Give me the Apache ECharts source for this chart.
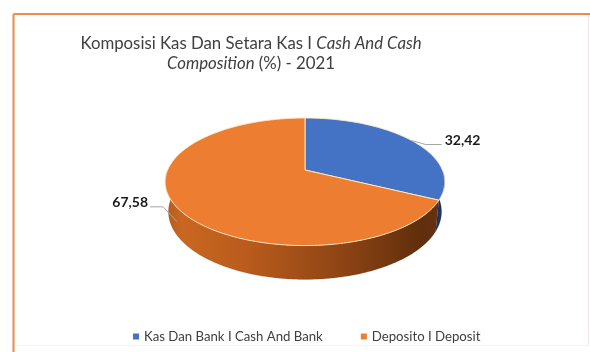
<!DOCTYPE html>
<html>
<head>
<meta charset="utf-8">
<script src="https://cdn.jsdelivr.net/npm/echarts@6/dist/echarts.min.js"></script>
<style>
  html, body { margin: 0; padding: 0; background: #ffffff; }
  #chart { width: 590px; height: 352px; }
</style>
</head>
<body>
<div id="chart"></div>
<script>
// Cash composition, 2021 (percent of total)
const categories = ['Kas Dan Bank I Cash And Bank', 'Deposito I Deposit'];
const shares = [32.42, 67.58];
const sliceColors = ['#4472C4', '#ED7D31'];

// Tilted-disc projection used to draw the pie as a 3D slab
const CX = 305, CY = 170;      // projected centre of the top face
const F = 665;                 // focal scale
const D = 4.84;                // camera distance (in disc radii)
const TILT = 26.65 * Math.PI / 180;
const S = Math.sin(TILT), C = Math.cos(TILT);
const THICK = 0.245;           // slab thickness (in disc radii)

function proj(u, v, h) {
  const up = v * S + h * C;
  const dep = D + v * C - h * S;
  return [CX + F * u / dep, CY - F * up / dep];
}
function rim(deg, h) {
  const r = deg * Math.PI / 180;
  return proj(Math.sin(r), Math.cos(r), h);
}

const total = shares.reduce((a, b) => a + b, 0);
const startDeg = [];
let acc = 0;
shares.forEach(v => { startDeg.push(acc / total * 360); acc += v; });

function fmt(v) { return v.toFixed(2).replace('.', ','); }

// shaded wall colours, left to right across the slab
const wallStops = [
  [
    { offset: 0, color: '#2c4c88' },
    { offset: 1, color: '#1c3463' }
  ],
  [
    { offset: 0, color: '#b45a1c' },
    { offset: 0.06, color: '#c96721' },
    { offset: 0.3, color: '#b85b1c' },
    { offset: 0.62, color: '#904515' },
    { offset: 0.92, color: '#5f2e0c' },
    { offset: 1, color: '#6a3410' }
  ]
];

function sliceRenderer(idx) {
  return function (params, api) {
    const value = api.value(0);
    const a = startDeg[idx];
    const b = a + value / total * 360;
    const children = [];

    // top face
    const top = [proj(0, 0, 0)];
    for (let d = a; d < b; d += 1) top.push(rim(d, 0));
    top.push(rim(b, 0));
    children.push({
      type: 'polygon',
      z2: 10,
      shape: { points: top },
      style: { fill: sliceColors[idx], stroke: 'rgba(255,236,200,0.9)', lineWidth: 1 }
    });

    // front side wall
    const s0 = Math.max(a, 90), s1 = Math.min(b, 270);
    if (s1 > s0) {
      const side = [];
      for (let d = s0; d < s1; d += 1) side.push(rim(d, 0));
      side.push(rim(s1, 0));
      for (let d = s1; d > s0; d -= 1) side.push(rim(d, -THICK));
      side.push(rim(s0, -THICK));
      children.push({
        type: 'polygon',
        z2: 1,
        shape: { points: side },
        style: {
          fill: {
            type: 'linear', x: 165, y: 0, x2: 445, y2: 0, global: true,
            colorStops: wallStops[idx]
          },
          stroke: 'rgba(60,30,10,0.2)',
          lineWidth: 0.5
        }
      });
    }

    // value label with leader line
    const mid = (a + b) / 2;
    const label = fmt(value);
    if (mid < 180) {
      const p = rim(mid, 0);
      children.push({
        type: 'polyline', z2: 20,
        shape: { points: [p, [p[0] + 14, p[1] + 4], [p[0] + 30, p[1] + 4]] },
        style: { stroke: '#a6a6a6', lineWidth: 1, fill: null }
      });
      children.push({
        type: 'text', z2: 20,
        style: {
          x: p[0] + 33, y: p[1], text: label,
          font: 'bold 14px Lato', fill: '#1a1a1a',
          align: 'left', verticalAlign: 'middle'
        }
      });
    } else {
      const p = rim(mid, -THICK / 2);
      children.push({
        type: 'polyline', z2: 20,
        shape: { points: [p, [p[0] - 14, p[1] - 15], [p[0] - 27, p[1] - 15]] },
        style: { stroke: '#a6a6a6', lineWidth: 1, fill: null }
      });
      children.push({
        type: 'text', z2: 20,
        style: {
          x: p[0] - 29, y: p[1] - 19, text: label,
          font: 'bold 14px Lato', fill: '#1a1a1a',
          align: 'right', verticalAlign: 'middle'
        }
      });
    }

    return { type: 'group', children: children };
  };
}

const chart = echarts.init(document.getElementById('chart'), null, { renderer: 'canvas' });

chart.setOption({
  backgroundColor: '#ffffff',
  animation: false,
  title: {
    text: '{n|Komposisi Kas Dan Setara Kas I }{i|Cash And Cash}\n{i|Composition}{n| (%) - 2021}',
    left: 246,
    top: 29,
    textAlign: 'center',
    textStyle: {
      fontWeight: 'normal',
      rich: {
        n: { fontFamily: 'Lato', fontSize: 16.8, fontWeight: 'normal', color: '#3f3f3f', lineHeight: 20 },
        i: { fontFamily: 'Lato', fontSize: 16.8, fontWeight: 'normal', fontStyle: 'italic', color: '#3f3f3f', lineHeight: 20 }
      }
    }
  },
  legend: {
    data: categories,
    left: 128,
    top: 325,
    icon: 'rect',
    itemWidth: 6,
    itemHeight: 6,
    itemGap: 38,
    textStyle: { fontFamily: 'Lato', fontSize: 13.2, color: '#404040' }
  },
  graphic: [
    { type: 'line', shape: { x1: 13.5, y1: 14, x2: 590, y2: 14 }, style: { stroke: '#ed8a4c', lineWidth: 2 } },
    { type: 'line', shape: { x1: 13.5, y1: 14, x2: 13.5, y2: 352 }, style: { stroke: '#ed8a4c', lineWidth: 2 } },
    { type: 'line', shape: { x1: 588.5, y1: 15, x2: 588.5, y2: 346 }, style: { stroke: '#f6e4ea', lineWidth: 1 } },
    { type: 'line', shape: { x1: 15, y1: 345.5, x2: 589, y2: 345.5 }, style: { stroke: '#eef6f8', lineWidth: 1 } }
  ],
  series: categories.map((name, i) => ({
    type: 'custom',
    name: name,
    coordinateSystem: 'none',
    itemStyle: { color: sliceColors[i] },
    data: [shares[i]],
    renderItem: sliceRenderer(i)
  }))
});
</script>
</body>
</html>
